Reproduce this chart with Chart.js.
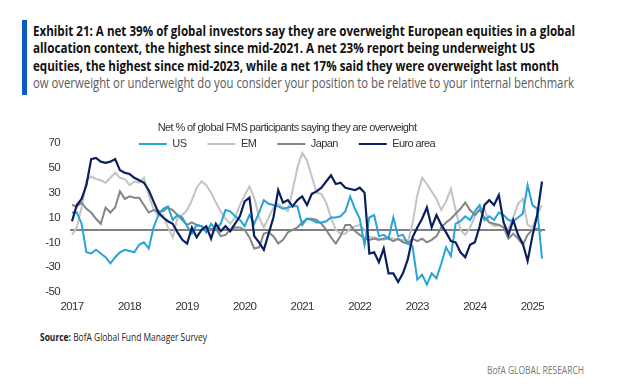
<!DOCTYPE html>
<html>
<head>
<meta charset="utf-8">
<script src="https://cdn.jsdelivr.net/npm/chart.js@4.4.1/dist/chart.umd.min.js"></script>
<style>
  body { margin: 0; background: #fff; width: 624px; height: 390px; position: relative; overflow: hidden; }
  .bar { position: absolute; left: 22px; top: 20px; width: 5px; height: 75px; background: #0a5bc4; }
  .hd { position: absolute; left: 33px; white-space: nowrap; font-family: 'Open Sans', sans-serif; font-size: 15px; line-height: 17.5px; transform-origin: 0 0; }
  .hd.b { font-weight: 700; color: #111; }
  .hd.s { color: #5a5a5a; }
  .ft { position: absolute; white-space: nowrap; font-family: 'Open Sans', sans-serif; font-size: 10px; line-height: 12px; transform-origin: 0 0; }
  #cv { position: absolute; left: 0; top: 100px; }
</style>
</head>
<body>
<div class="bar"></div>
<div class="hd b fit" data-w="542" style="top:21.5px">Exhibit 21: A net 39% of global investors say they are overweight European equities in a global</div>
<div class="hd b fit" data-w="502" style="top:39px">allocation context, the highest since mid-2021. A net 23% report being underweight US</div>
<div class="hd b fit" data-w="526" style="top:56.5px">equities, the highest since mid-2023, while a net 17% said they were overweight last month</div>
<div class="hd s fit" data-w="541" style="top:74px">ow overweight or underweight do you consider your position to be relative to your internal benchmark</div>
<canvas id="cv" width="624" height="220"></canvas>
<div class="ft fit" data-w="167" style="left:40px; top:331px; color:#222"><b>Source:</b> BofA Global Fund Manager Survey</div>
<div class="ft fit" data-w="97" style="left:487px; top:364px; color:#777">BofA GLOBAL RESEARCH</div>
<script>
    // squeeze header lines to the width they have in the exhibit
    document.querySelectorAll('.fit').forEach(function(el) {
        el.style.display = 'inline-block';
        var w = el.getBoundingClientRect().width;
        el.style.transform = 'scaleX(' + (+el.dataset.w / w) + ')';
    });

    // monthly survey, Jan 2017 .. Mar 2025
    var months = [];
    for (var y = 2017; y <= 2025; y++) {
        for (var m = 1; m <= 12; m++) {
            if (y === 2025 && m > 3) break;
            months.push(y + '-' + (m < 10 ? '0' + m : m));
        }
    }

    var us = [14, 14, 5, -18, -19, -16, -19, -22, -27, -22, -18, -16,
        -17, -18, -12, -10, -15, 2, 12, 17, 19, 8, 12, 10,
        3, -3, 4, 3, -2, 5, 0, 5, 16, 15, 11, 8,
        3, 12, 5, 14, 24, 21, 20, 19, 17, 18, 19, 19,
        4, 9, 8, 6, 6, 7, 10, 10, 11, 15, 27, 17,
        9, -12, 10, 12, -5, -4, -7, 10, -5, -4, -11, -13,
        -40, -36, -44, -35, -39, -27, -14, -21, 5, 7, 11, 8,
        15, 20, 8, 11, 8, 14, 12, 8, 7, 10, 13, 36,
        20, 17, -23];
    var em = [-4, 2, 18, 40, 43, 41, 40, 38, 42, 46, 42, 41,
        36, 39, 38, 42, 28, 17, 11, 12, 2, -6, 10, 12,
        16, 24, 34, 39, 36, 30, 22, 15, 9, 5, 10, 20,
        28, 35, 26, 10, 2, 10, 18, 21, 18, 15, 32, 50,
        62, 56, 43, 30, 29, 22, 10, 0, -3, -3, 1, 3,
        4, 0, -6, -6, -7, -8, -6, -7, -8, -8, -10, 5,
        28, 42, 37, 31, 25, 16, 23, 33, 16, 0, -4, 2,
        11, 17, 17, 6, 3, 4, 2, 1, 10, 21, 25, 4,
        2, 12, 20];
    var japan = [20, 19, 22, 17, 14, 9, 5, 18, 14, 18, 31, 25,
        27, 26, 26, 20, 14, 16, 15, 15, 18, 16, 12, 8,
        4, 6, 4, 3, 0, 1, 1, -5, -4, 0, 2, 2,
        0, -6, -15, -14, -3, -2, -5, -11, -8, -2, 0, 2,
        6, 9, 9, 8, 5, 0, -6, -11, -5, 4, 4, -1,
        -4, -7, -8, -7, -8, -7, -7, -9, -7, -10, -11, -7,
        -9, -7, -10, -8, -5, 2, 6, 9, 13, 17, 22, 16,
        12, 16, 10, 6, 5, 4, 2, -7, -3, -7, -12, -4,
        0, 1, -1];
    var euro = [7, 20, 25, 36, 57, 58, 55, 54, 55, 57, 48, 46,
        45, 42, 40, 38, 32, 23, 14, 10, 7, 5, -2, -8,
        -11, 2, -6, 0, 3, -7, 5, -1, 3, -1, 5, 11,
        23, 26, -5, -10, -16, -3, 10, 32, 22, 24, 19, 24,
        27, 20, 29, 31, 34, 39, 44, 37, 38, 34, 33, 32,
        34, 30, -19, -18, -26, -15, -35, -35, -42, -35, -24, -6,
        2, 9, 18, 2, 12, 4, -2, -9, -10, -18, -22, -12,
        -10, 3, 20, 24, 20, 28, 6, -4, 8, -4, -11, -25,
        -5, 12, 39];

    var yTicks = [-50, -30, -10, 10, 30, 50, 70];
    var legendTitle = 'Net % of global FMS participants saying they are overweight';

    Chart.defaults.font.family = "'Liberation Sans', Arial, sans-serif";
    Chart.defaults.color = '#333';

    // the exhibit uses a narrow sans; tighten the canvas text a little
    var narrowText = {
        id: 'narrowText',
        afterInit: function(chart) {
            chart.ctx.letterSpacing = '-0.6px';
        }
    };

    var zeroLine = {
        id: 'zeroLine',
        beforeDatasetsDraw: function(chart) {
            var ctx = chart.ctx, a = chart.chartArea;
            var y0 = chart.scales.y.getPixelForValue(0);
            ctx.save();
            ctx.strokeStyle = '#808080';
            ctx.lineWidth = 2;
            ctx.beginPath();
            ctx.moveTo(a.left - 2, y0);
            ctx.lineTo(a.right + 3, y0);
            ctx.stroke();
            ctx.restore();
        }
    };

    // legend sits over the top of the plot in the exhibit
    var legendNudge = {
        id: 'legendNudge',
        afterLayout: function(chart) {
            var lg = chart.legend;
            lg.left += 16;
            lg.right += 16;
            lg.bottom += 16;
            lg.height += 16;
        }
    };

    function line(label, data, color, width, order) {
        return {
            label: label,
            data: data,
            borderColor: color,
            backgroundColor: color,
            borderWidth: width,
            pointRadius: 0,
            tension: 0,
            order: order
        };
    }

    new Chart(document.getElementById('cv'), {
        type: 'line',
        data: {
            labels: months,
            datasets: [
                line('US', us, '#27a3d8', 2, 1),
                line('EM', em, '#c3c3c3', 2, 3),
                line('Japan', japan, '#858585', 2, 2),
                line('Euro area', euro, '#0b1f5e', 2.2, 0)
            ]
        },
        options: {
            responsive: false,
            animation: false,
            layout: { padding: { left: 0, right: 82, top: 22.5, bottom: 0 } },
            plugins: {
                legend: {
                    position: 'top',
                    align: 'center',
                    maxHeight: 20.5,
                    title: {
                        display: true,
                        text: legendTitle,
                        color: '#333',
                        font: { size: 11 },
                        padding: { top: 0, bottom: -18.2 }
                    },
                    labels: {
                        usePointStyle: true,
                        pointStyle: 'line',
                        pointStyleWidth: 28,
                        padding: 21,
                        color: '#333',
                        font: { size: 11 },
                        sort: function(a, b) { return a.datasetIndex - b.datasetIndex; }
                    }
                },
                tooltip: { enabled: false }
            },
            scales: {
                x: {
                    grid: { display: false, drawTicks: false },
                    border: { display: false },
                    ticks: {
                        autoSkip: false,
                        maxRotation: 0,
                        minRotation: 0,
                        padding: 8,
                        font: { size: 11.5 },
                        color: '#333',
                        callback: function(v) {
                            var lab = this.getLabelForValue(v);
                            return lab.slice(5) === '01' ? lab.slice(0, 4) : null;
                        }
                    },
                    afterFit: function(s) { s.height = 28; }
                },
                y: {
                    min: -50,
                    max: 70,
                    grid: { display: false, drawTicks: false },
                    border: { display: false },
                    afterBuildTicks: function(s) {
                        s.ticks = yTicks.map(function(v) { return { value: v }; });
                    },
                    ticks: { padding: 12, font: { size: 11.5 }, color: '#333' },
                    afterFit: function(s) { s.width = 72; }
                }
            }
        },
        plugins: [narrowText, zeroLine, legendNudge]
    });
</script>
</body>
</html>
